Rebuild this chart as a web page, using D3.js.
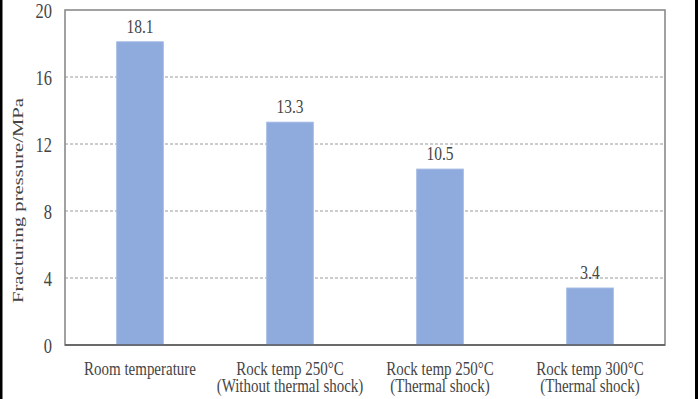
<!DOCTYPE html>
<html>
<head>
<meta charset="utf-8">
<script src="https://cdn.jsdelivr.net/npm/d3@7"></script>
<style>
  body { margin: 0; background: #fff; }
  text { font-family: "Liberation Serif", "Times New Roman", serif; fill: #454545; }
</style>
</head>
<body>
<div id="chart"></div>
<script>
// Data
var categories = ["Room temperature", "Rock temp 250\u00b0C|(Without thermal shock)",
                  "Rock temp 250\u00b0C|(Thermal shock)", "Rock temp 300\u00b0C|(Thermal shock)"];
var pressures = [18.1, 13.3, 10.5, 3.4];
var yTicks = [0, 4, 8, 12, 16, 20];

// Sizes
var W = 698, H = 399;
var margin = {top: 10, right: 33, bottom: 54, left: 65},
    width = W - margin.left - margin.right,
    height = H - margin.top - margin.bottom;
var stretch = 1.24; // text in the picture is taller than wide

var root = d3.select("#chart")
  .append("svg")
    .attr("width", W)
    .attr("height", H);

// dark edges of the picture
root.append("rect").attr("x", 0).attr("y", 0).attr("width", 2.5).attr("height", H).attr("fill", "#000");
root.append("rect").attr("x", W - 3).attr("y", 0).attr("width", 3).attr("height", H).attr("fill", "#000");

var svg = root.append("g")
    .attr("transform", "translate(" + margin.left + "," + margin.top + ")");

var x = d3.scaleBand()
  .domain(categories)
  .range([0, width])
  .paddingInner(0.69)
  .paddingOuter(0.345);

var y = d3.scaleLinear()
  .domain([0, 20])
  .range([height, 0]);

// grid lines
svg.append("g")
  .selectAll("line")
  .data(yTicks.filter(function(d) { return d > 0 && d < 20; }))
  .enter()
  .append("line")
    .attr("x1", 0)
    .attr("x2", width)
    .attr("y1", function(d) { return y(d); })
    .attr("y2", function(d) { return y(d); })
    .attr("stroke", "#9a9a9a")
    .attr("stroke-width", 1)
    .attr("stroke-dasharray", "3,2");

// plot frame
svg.append("rect")
  .attr("x", 0).attr("y", 0)
  .attr("width", width).attr("height", height)
  .attr("fill", "none")
  .attr("stroke", "#8a8a8a")
  .attr("stroke-width", 1.6);

// bars
svg.selectAll(".bar")
  .data(pressures)
  .enter()
  .append("rect")
    .attr("class", "bar")
    .attr("x", function(d, i) { return x(categories[i]); })
    .attr("y", function(d) { return y(d); })
    .attr("width", x.bandwidth())
    .attr("height", function(d) { return height - y(d); })
    .attr("fill", "#8faadc")
    .attr("stroke", "#9fb7e2")
    .attr("stroke-width", 1);

// bottom axis line
svg.append("line")
  .attr("x1", 0).attr("x2", width)
  .attr("y1", height).attr("y2", height)
  .attr("stroke", "#595959")
  .attr("stroke-width", 1.6);

// value labels
svg.selectAll(".val")
  .data(pressures)
  .enter()
  .append("text")
    .attr("class", "val")
    .attr("text-anchor", "middle")
    .style("font-size", "15.5px")
    .attr("transform", function(d, i) {
      return "translate(" + (x(categories[i]) + x.bandwidth() / 2) + "," + (y(d) - 9) + ") scale(1," + stretch + ")";
    })
    .text(function(d) { return d.toFixed(1); });

// y tick labels
svg.selectAll(".ytick")
  .data(yTicks)
  .enter()
  .append("text")
    .attr("class", "ytick")
    .attr("text-anchor", "end")
    .style("font-size", "16.5px")
    .attr("transform", function(d) {
      return "translate(-13," + (y(d) + 7.5) + ") scale(1," + stretch + ")";
    })
    .text(function(d) { return d; });

// x category labels
var xl = svg.selectAll(".xlab")
  .data(categories)
  .enter()
  .append("text")
    .attr("class", "xlab")
    .attr("text-anchor", "middle")
    .style("font-size", "15px")
    .attr("transform", function(d) {
      return "translate(" + (x(d) + x.bandwidth() / 2) + "," + (height + 30) + ") scale(1," + stretch + ")";
    });
xl.selectAll("tspan")
  .data(function(d) { return d.split("|"); })
  .enter()
  .append("tspan")
    .attr("x", 0)
    .attr("dy", function(d, i) { return i === 0 ? 0 : 14; })
    .text(function(d) { return d; });

// y axis title
svg.append("text")
  .attr("text-anchor", "middle")
  .style("font-size", "15px")
  .attr("transform", "translate(-42," + (height / 2 + 23) + ") scale(1,1.38) rotate(-90)")
  .text("Fracturing pressure/MPa");
</script>
</body>
</html>
